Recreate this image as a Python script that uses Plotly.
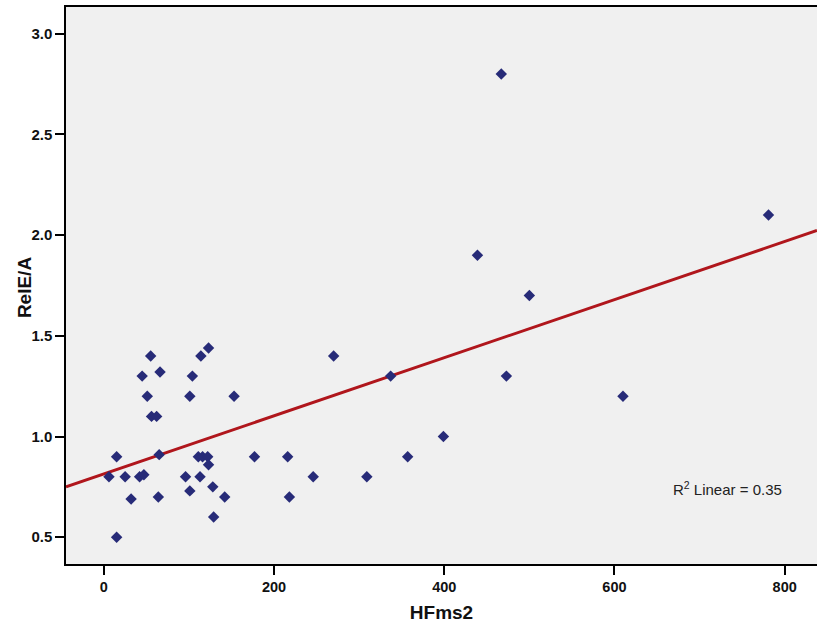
import numpy as np
import plotly.graph_objects as go

hfms2 = [6, 15, 15, 25, 32, 42, 47, 45, 51, 55, 56, 62, 64, 65, 66,
         101, 104, 114, 123, 153, 111, 116, 122, 123, 177, 96, 113, 101,
         128, 142, 129, 270, 337, 473, 610, 216, 218, 246, 309, 357, 399,
         467, 439, 500, 781]
rele_a = [0.80, 0.90, 0.50, 0.80, 0.69, 0.80, 0.81, 1.30, 1.20, 1.40, 1.10, 1.10, 0.70, 0.91, 1.32,
          1.20, 1.30, 1.40, 1.44, 1.20, 0.90, 0.90, 0.90, 0.86, 0.90, 0.80, 0.80, 0.73,
          0.75, 0.70, 0.60, 1.40, 1.30, 1.30, 1.20, 0.90, 0.70, 0.80, 0.80, 0.90, 1.00,
          2.80, 1.90, 1.70, 2.10]

x_ticks = [0, 200, 400, 600, 800]
y_ticks = [0.5, 1.0, 1.5, 2.0, 2.5, 3.0]
y_tick_labels = ["0.5", "1.0", "1.5", "2.0", "2.5", "3.0"]
x_range = [-44.5, 838]
y_range = [0.367, 3.133]
r2_label = "R<sup>2</sup> Linear = 0.35"
x_title = "HFms2"
y_title = "RelE/A"

xa = np.array(hfms2, float)
ya = np.array(rele_a, float)
slope, intercept = np.polyfit(xa, ya, 1)
line_x = np.array(x_range)
line_y = intercept + slope * line_x

fig = go.Figure()
fig.add_trace(go.Scatter(x=line_x, y=line_y, mode="lines",
                         line=dict(color="#B0161C", width=3), hoverinfo="skip",
                         showlegend=False))
fig.add_trace(go.Scatter(x=hfms2, y=rele_a, mode="markers",
                         marker=dict(symbol="diamond", size=8.8, color="#272B78",
                                     line=dict(width=0)),
                         showlegend=False))

fig.add_annotation(x=733, y=0.74, text=r2_label, showarrow=False,
                   font=dict(family="Liberation Sans, Arial", size=15, color="#222222"))

ytick_font = dict(family="Liberation Sans, Arial", size=15, color="#111111")
xtick_font = dict(family="Liberation Sans, Arial", size=14.5, color="#111111")
title_font = dict(family="Liberation Sans, Arial", size=19, color="#111111")

fig.add_annotation(xref="paper", yref="paper", x=-0.056, y=0.497,
                   xanchor="center", yanchor="middle", textangle=-90,
                   text="<b>%s</b>" % y_title, showarrow=False, font=title_font)

fig.update_layout(
    width=817, height=630,
    margin=dict(l=66, r=0, t=7, b=66, autoexpand=False),
    paper_bgcolor="white", plot_bgcolor="#F0F0F0",
    font=ytick_font,
    xaxis=dict(range=x_range, tickvals=x_ticks, ticktext=["<b>%d</b>" % v for v in x_ticks],
               showgrid=False, zeroline=False, showline=True, linecolor="black",
               linewidth=1.5, mirror=True, ticks="outside", ticklen=9, tickwidth=1.5,
               tickcolor="black", tickfont=xtick_font, automargin=False,
               title=dict(text="<b>%s</b>" % x_title, font=title_font, standoff=12)),
    yaxis=dict(range=y_range, tickvals=y_ticks, ticktext=["<b>%s</b>" % t for t in y_tick_labels],
               showgrid=False, zeroline=False, showline=True, linecolor="black",
               linewidth=1.5, ticks="outside", ticklen=9, tickwidth=1.5,
               tickcolor="black", tickfont=ytick_font, automargin=False),
)

fig.write_html("out.html", config={"displayModeBar": False},
               post_script="document.body.style.margin='0';document.body.style.overflow='hidden';")
